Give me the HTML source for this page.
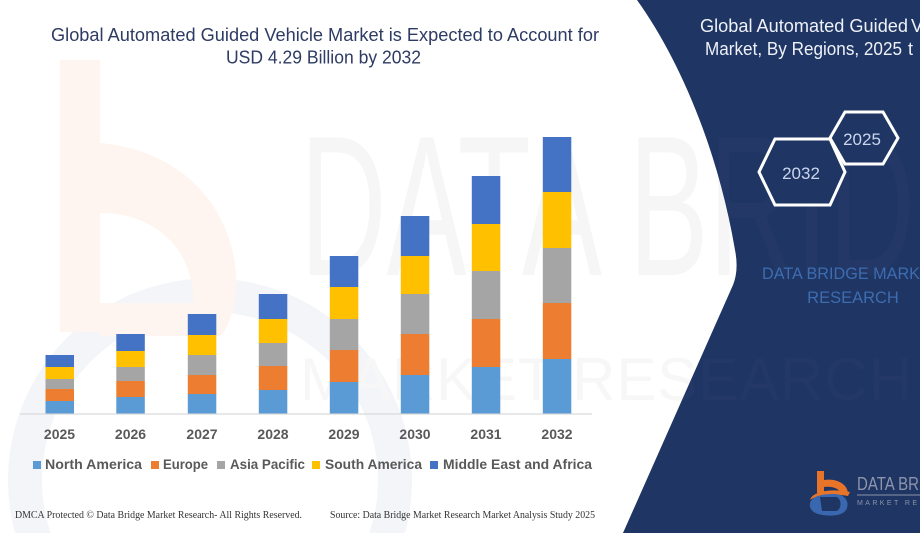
<!DOCTYPE html>
<html><head><meta charset="utf-8"><style>
html,body{margin:0;padding:0;background:#fff;width:920px;height:533px;overflow:hidden;}
svg{display:block;}
</style></head><body>
<svg width="920" height="533" viewBox="0 0 920 533" xmlns="http://www.w3.org/2000/svg" overflow="hidden">
<defs><clipPath id="frame"><rect x="0" y="0" width="920" height="533"/></clipPath></defs>
<rect width="920" height="533" fill="#ffffff"/>
<g clip-path="url(#frame)">
<!-- faint watermarks -->
<path d="M15,533 A202,202 0 1 1 405,533 L369.4,533 A168,168 0 1 0 50.6,533 Z" fill="#f3f5f9"/>
<g fill="#fef5f0">
<rect x="60" y="60" width="40" height="272"/>
<path d="M100,143 C190,150 240,220 236,290 C233,320 225,332 220,336 L100,336 Z M100,213 L100,303 L193,303 C195,255 160,213 100,213 Z" fill-rule="evenodd"/>
</g>
<text x="300" y="275" font-family="Liberation Sans, sans-serif" font-size="200" fill="#f6f6f6" textLength="615" lengthAdjust="spacingAndGlyphs">DATA BRID</text>
<text x="300" y="400" font-family="Liberation Sans, sans-serif" font-size="60" fill="#f7f7f7" textLength="612" lengthAdjust="spacing">MARKET RESEARCH</text>

<!-- title -->
<text x="51" y="41" font-family="Liberation Sans, sans-serif" font-size="18" fill="#2e3b63" textLength="548" lengthAdjust="spacingAndGlyphs">Global Automated Guided Vehicle Market is Expected to Account for</text>
<text x="226" y="63.5" font-family="Liberation Sans, sans-serif" font-size="18" fill="#2e3b63" textLength="195" lengthAdjust="spacingAndGlyphs">USD 4.29 Billion by 2032</text>

<!-- axis -->
<line x1="20" y1="414" x2="592" y2="414" stroke="#d9d9d9" stroke-width="1.2"/>

<!-- bars -->
<g>
<rect x="45.5" y="355" width="28.5" height="12" fill="#4472c4"/>
<rect x="45.5" y="367" width="28.5" height="12" fill="#ffc000"/>
<rect x="45.5" y="379" width="28.5" height="10" fill="#a5a5a5"/>
<rect x="45.5" y="389" width="28.5" height="12" fill="#ed7d31"/>
<rect x="45.5" y="401" width="28.5" height="12.5" fill="#5b9bd5"/>
<rect x="116.3" y="334" width="28.5" height="17" fill="#4472c4"/>
<rect x="116.3" y="351" width="28.5" height="16" fill="#ffc000"/>
<rect x="116.3" y="367" width="28.5" height="14" fill="#a5a5a5"/>
<rect x="116.3" y="381" width="28.5" height="16" fill="#ed7d31"/>
<rect x="116.3" y="397" width="28.5" height="16.5" fill="#5b9bd5"/>
<rect x="187.8" y="314" width="28.5" height="21" fill="#4472c4"/>
<rect x="187.8" y="335" width="28.5" height="20" fill="#ffc000"/>
<rect x="187.8" y="355" width="28.5" height="20" fill="#a5a5a5"/>
<rect x="187.8" y="375" width="28.5" height="19" fill="#ed7d31"/>
<rect x="187.8" y="394" width="28.5" height="19.5" fill="#5b9bd5"/>
<rect x="258.8" y="294" width="28.5" height="25" fill="#4472c4"/>
<rect x="258.8" y="319" width="28.5" height="24" fill="#ffc000"/>
<rect x="258.8" y="343" width="28.5" height="23" fill="#a5a5a5"/>
<rect x="258.8" y="366" width="28.5" height="24" fill="#ed7d31"/>
<rect x="258.8" y="390" width="28.5" height="23.5" fill="#5b9bd5"/>
<rect x="329.8" y="256" width="28.5" height="31" fill="#4472c4"/>
<rect x="329.8" y="287" width="28.5" height="32" fill="#ffc000"/>
<rect x="329.8" y="319" width="28.5" height="31" fill="#a5a5a5"/>
<rect x="329.8" y="350" width="28.5" height="32" fill="#ed7d31"/>
<rect x="329.8" y="382" width="28.5" height="31.5" fill="#5b9bd5"/>
<rect x="400.8" y="216" width="28.5" height="40" fill="#4472c4"/>
<rect x="400.8" y="256" width="28.5" height="38" fill="#ffc000"/>
<rect x="400.8" y="294" width="28.5" height="40" fill="#a5a5a5"/>
<rect x="400.8" y="334" width="28.5" height="41" fill="#ed7d31"/>
<rect x="400.8" y="375" width="28.5" height="38.5" fill="#5b9bd5"/>
<rect x="471.8" y="176" width="28.5" height="48" fill="#4472c4"/>
<rect x="471.8" y="224" width="28.5" height="47" fill="#ffc000"/>
<rect x="471.8" y="271" width="28.5" height="48" fill="#a5a5a5"/>
<rect x="471.8" y="319" width="28.5" height="48" fill="#ed7d31"/>
<rect x="471.8" y="367" width="28.5" height="46.5" fill="#5b9bd5"/>
<rect x="542.8" y="137" width="28.5" height="55" fill="#4472c4"/>
<rect x="542.8" y="192" width="28.5" height="56" fill="#ffc000"/>
<rect x="542.8" y="248" width="28.5" height="55" fill="#a5a5a5"/>
<rect x="542.8" y="303" width="28.5" height="56" fill="#ed7d31"/>
<rect x="542.8" y="359" width="28.5" height="54.5" fill="#5b9bd5"/>
</g>

<!-- year labels -->
<g font-family="Liberation Sans, sans-serif" font-size="14" font-weight="bold" fill="#595959" text-anchor="middle">
<text x="59.5" y="439">2025</text>
<text x="130.5" y="439">2026</text>
<text x="202" y="439">2027</text>
<text x="273" y="439">2028</text>
<text x="344" y="439">2029</text>
<text x="415" y="439">2030</text>
<text x="486" y="439">2031</text>
<text x="557" y="439">2032</text>
</g>

<!-- legend -->
<g font-family="Liberation Sans, sans-serif" font-size="14" font-weight="bold" fill="#595959">
<rect x="33" y="461" width="8" height="8" fill="#5b9bd5"/>
<text x="45" y="469" textLength="97" lengthAdjust="spacingAndGlyphs">North America</text>
<rect x="151" y="461" width="8" height="8" fill="#ed7d31"/>
<text x="163" y="469" textLength="45" lengthAdjust="spacingAndGlyphs">Europe</text>
<rect x="217" y="461" width="8" height="8" fill="#a5a5a5"/>
<text x="230" y="469" textLength="75" lengthAdjust="spacingAndGlyphs">Asia Pacific</text>
<rect x="312" y="461" width="8" height="8" fill="#ffc000"/>
<text x="325" y="469" textLength="97" lengthAdjust="spacingAndGlyphs">South America</text>
<rect x="430" y="461" width="8" height="8" fill="#4472c4"/>
<text x="443" y="469" textLength="149" lengthAdjust="spacingAndGlyphs">Middle East and Africa</text>
</g>

<!-- footer -->
<g font-family="Liberation Serif, serif" font-size="10" fill="#333333">
<text x="15" y="518" textLength="287" lengthAdjust="spacingAndGlyphs">DMCA Protected © Data Bridge Market Research-  All Rights Reserved.</text>
<text x="330" y="518" textLength="265" lengthAdjust="spacingAndGlyphs">Source: Data Bridge Market Research  Market Analysis Study 2025</text>
</g>

<!-- right panel -->
<clipPath id="pc"><path d="M637,0 C680,60 718,150 735,250 Q739,270 733,285 L623,533 L920,533 L920,0 Z"/></clipPath>
<path d="M637,0 C680,60 718,150 735,250 Q739,270 733,285 L623,533 L920,533 L920,0 Z" fill="#1f3563"/>
<g clip-path="url(#pc)">
<text x="300" y="275" font-family="Liberation Sans, sans-serif" font-size="200" fill="#ffffff" fill-opacity="0.02" textLength="615" lengthAdjust="spacingAndGlyphs">DATA BRID</text>
<text x="300" y="400" font-family="Liberation Sans, sans-serif" font-size="60" fill="#ffffff" fill-opacity="0.02" textLength="612" lengthAdjust="spacing">MARKET RESEARCH</text>
</g>
<g font-family="Liberation Sans, sans-serif" font-size="18" fill="#eef1f8">
<text x="700" y="32" textLength="208" lengthAdjust="spacingAndGlyphs">Global Automated Guided</text>
<text x="911" y="32">V</text>
<text x="705" y="55" textLength="197" lengthAdjust="spacingAndGlyphs">Market, By Regions, 2025</text>
<text x="908" y="55">t</text>
</g>
<!-- hexagons -->
<polygon points="830,138 845,112 883,112 898,138 883,164 845,164" fill="#1f3563" stroke="#ffffff" stroke-width="3"/>
<polygon points="759,172 775,139 830,139 845,172 830,205 775,205" fill="#1f3563" stroke="#ffffff" stroke-width="3"/>
<g font-family="Liberation Sans, sans-serif" font-size="17" fill="#c9d6ee" text-anchor="middle">
<text x="862" y="145">2025</text>
<text x="801" y="179">2032</text>
</g>
<g font-family="Liberation Sans, sans-serif" font-size="16.5" fill="#3d6cb0">
<text x="762" y="279" textLength="158" lengthAdjust="spacingAndGlyphs">DATA BRIDGE MARK</text>
<text x="853" y="303" text-anchor="middle">RESEARCH</text>
</g>
<!-- bottom-right logo -->
<g>
<path d="M810,500 C812,492 830,488 850,492 L848,496 C830,493 815,496 810,500 Z" fill="#e8742a"/>
<path d="M810,503 C812,496 822,494 834,494 C846,494 850,503 846,510 C842,516 830,517 818,514 C812,512 809,508 810,503 Z" fill="#3a68b0"/>
<path d="M820,497 L836,497 C842,498 842,510 836,511 L822,511 Z" fill="#1f3563"/>
<rect x="817" y="471" width="7" height="22" fill="#e8742a"/>
<path d="M824,480 C838,478 848,485 848,494 L841,494 C840,489 833,486 824,487 Z" fill="#e8742a"/>
<text x="857" y="490" font-family="Liberation Sans, sans-serif" font-size="18" fill="#8c95aa" textLength="62" lengthAdjust="spacingAndGlyphs">DATA BR</text>
<line x1="857" y1="495" x2="920" y2="495" stroke="#8c95aa" stroke-width="1"/>
<text x="857" y="505" font-family="Liberation Sans, sans-serif" font-size="7" fill="#8c95aa" textLength="60" lengthAdjust="spacing">MARKET RE</text>
</g>
</g>
</svg>
</body></html>
